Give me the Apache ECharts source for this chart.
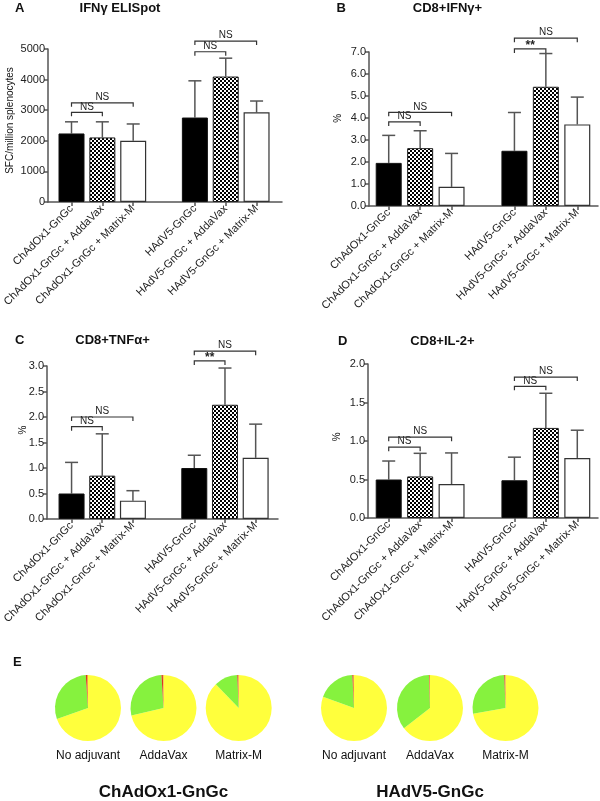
<!DOCTYPE html>
<html><head><meta charset="utf-8">
<script src="https://cdn.jsdelivr.net/npm/echarts@6/dist/echarts.min.js"></script>
<style>html,body{margin:0;padding:0;background:#fff}#c{width:600px;height:801px}</style>
</head><body><div id="c"></div>
<script>
// ---------- data ----------
const categories = ['ChAdOx1-GnGc','ChAdOx1-GnGc + AddaVax','ChAdOx1-GnGc + Matrix-M','','HAdV5-GnGc','HAdV5-GnGc + AddaVax','HAdV5-GnGc + Matrix-M'];
const groupSlots = [0,1,2,4,5,6];

const elispotMean = [2240,2110,2000,2760,4100,2930];
const elispotSD   = [380,510,550,1200,600,370];
const ifngMean = [1.96,2.63,0.87,2.51,5.42,3.71];
const ifngSD   = [1.25,0.79,1.52,1.74,1.51,1.24];
const tnfMean  = [0.50,0.85,0.36,1.00,2.24,1.20];
const tnfSD    = [0.61,0.82,0.195,0.25,0.72,0.66];
const il2Mean  = [0.50,0.54,0.44,0.49,1.17,0.78];
const il2SD    = [0.24,0.30,0.405,0.30,0.45,0.36];

// brackets: [fromSlot, toSlot, yValue]
const elispotBrackets = [[0,1,2930],[0,2,3240],[4,5,4910],[4,6,5260]];
const elispotBracketLabels = ['NS','NS','NS','NS'];
const ifngBrackets = [[0,1,3.82],[0,2,4.26],[4,5,7.14],[4,6,7.63]];
const ifngBracketLabels = ['NS','NS','**','NS'];
const tnfBrackets = [[0,1,1.81],[0,2,2.0],[4,5,3.10],[4,6,3.29]];
const tnfBracketLabels = ['NS','NS','**','NS'];
const il2Brackets = [[0,1,0.92],[0,2,1.05],[4,5,1.71],[4,6,1.83]];
const il2BracketLabels = ['NS','NS','NS','NS'];

const pieLabels = ['No adjuvant','AddaVax','Matrix-M','No adjuvant','AddaVax','Matrix-M'];
const pieYellow = [69.6,71.4,87.8,80.6,64.5,72.2];
const pieGreen  = [29.3,27.6,11.5,18.6,35.0,27.2];
const pieRed    = [0.7,0.7,0.4,0.5,0.3,0.4];
const pieOrange = [0.4,0.3,0.3,0.3,0.2,0.2];
const vectorNames = ['ChAdOx1-GnGc','HAdV5-GnGc'];

// ---------- styling ----------
const FONT = '"Liberation Sans", Arial, Helvetica, sans-serif';
const AX = '#555';
const checker = document.createElement('canvas');
checker.width = 4; checker.height = 4;
(function(){const g=checker.getContext('2d');g.fillStyle='#fff';g.fillRect(0,0,4,4);g.fillStyle='#000';g.fillRect(0,0,2,2);g.fillRect(2,2,2,2);})();
const barStyles = [
  {color:'#000', borderColor:'#111', borderWidth:1},
  {color:{image:checker, repeat:'repeat'}, borderColor:'#222', borderWidth:1},
  {color:'#fff', borderColor:'#333', borderWidth:1.2}
];

const panels = [
  {mean:elispotMean, sd:elispotSD, br:elispotBrackets, brl:elispotBracketLabels, max:5000, interval:1000, dec:0,
   frame:{left:48,top:49,width:234,height:153}, data:{left:53,width:219}},
  {mean:ifngMean, sd:ifngSD, br:ifngBrackets, brl:ifngBracketLabels, max:7, interval:1, dec:1,
   frame:{left:369,top:52,width:229,height:154}, data:{left:373,width:220}},
  {mean:tnfMean, sd:tnfSD, br:tnfBrackets, brl:tnfBracketLabels, max:3, interval:0.5, dec:1,
   frame:{left:47,top:366,width:231,height:153}, data:{left:51,width:220}},
  {mean:il2Mean, sd:il2SD, br:il2Brackets, brl:il2BracketLabels, max:2, interval:0.5, dec:1,
   frame:{left:368,top:364,width:230,height:154}, data:{left:373,width:220}}
];

const grid=[], xAxis=[], yAxis=[], series=[];
panels.forEach((p,i)=>{
  const fi = 2*i, di = 2*i+1;
  grid.push({left:p.frame.left, top:p.frame.top, width:p.frame.width, height:p.frame.height});
  grid.push({left:p.data.left, top:p.frame.top, width:p.data.width, height:p.frame.height});
  xAxis.push({gridIndex:fi, type:'category', data:[''], axisLine:{lineStyle:{color:AX,width:1.5}}, axisTick:{show:false}, axisLabel:{show:false}});
  xAxis.push({gridIndex:di, type:'category', data:categories, axisLine:{show:false},
    axisTick:{show:true, alignWithLabel:true, length:4, interval:(idx,v)=>v!=='', lineStyle:{color:AX,width:1.5}},
    axisLabel:{interval:0, rotate:45, fontSize:11, fontFamily:FONT, color:'#222', margin:5}});
  yAxis.push({gridIndex:fi, type:'value', min:0, max:p.max, interval:p.interval,
    axisLine:{show:true, lineStyle:{color:AX,width:1.5}}, axisTick:{show:true,length:4,lineStyle:{color:AX,width:1.5}},
    splitLine:{show:false},
    axisLabel:{fontSize:11, fontFamily:FONT, color:'#222', margin:3, formatter:v=>v.toFixed(p.dec)}});
  yAxis.push({gridIndex:di, type:'value', min:0, max:p.max, interval:p.interval, show:false, splitLine:{show:false}});

  const barData = categories.map(()=> '-');
  p.mean.forEach((m,k)=>{ barData[groupSlots[k]] = {value:m, itemStyle:barStyles[k%3]}; });
  series.push({type:'bar', xAxisIndex:di, yAxisIndex:di, data:barData, barWidth:26, silent:true, animation:false});

  series.push({type:'custom', xAxisIndex:di, yAxisIndex:di, silent:true, animation:false, clip:false,
    data:p.mean.map((m,k)=>[groupSlots[k], m, m+p.sd[k]]),
    encode:{x:0,y:[1,2]},
    renderItem:(params,api)=>{
      const a=api.coord([api.value(0),api.value(1)]), b=api.coord([api.value(0),api.value(2)]);
      return {type:'group', children:[
        {type:'line', shape:{x1:a[0],y1:a[1],x2:b[0],y2:b[1]}, style:{stroke:AX,lineWidth:1.5}},
        {type:'line', shape:{x1:b[0]-6.5,y1:b[1],x2:b[0]+6.5,y2:b[1]}, style:{stroke:AX,lineWidth:1.5}}
      ]};
    }});

  series.push({type:'custom', xAxisIndex:di, yAxisIndex:di, silent:true, animation:false, clip:false,
    data:p.br, encode:{x:[0,1],y:2},
    renderItem:(params,api)=>{
      const a=api.coord([api.value(0),api.value(2)]), b=api.coord([api.value(1),api.value(2)]);
      const lab = p.brl[params.dataIndex];
      return {type:'group', children:[
        {type:'polyline', shape:{points:[[a[0],a[1]+4],[a[0],a[1]],[b[0],b[1]],[b[0],b[1]+4]]}, style:{stroke:'#333',lineWidth:1.2,fill:null}},
        {type:'text', x:(a[0]+b[0])/2, y:a[1]-(lab==='**'?-3:0.5), style:{text:lab, font:(lab==='**'?'bold 12px ':'10px ')+FONT, fill:'#222', textAlign:'center', textVerticalAlign:'bottom'}}
      ]};
    }});
});

const pieCenters = [88,163.5,238.7,354,430,505.5];
pieCenters.forEach((cx,k)=>{
  series.push({type:'pie', center:[cx,708], radius:33, startAngle:90, clockwise:true, silent:true, animation:false,
    label:{show:false}, labelLine:{show:false}, itemStyle:{borderWidth:0},
    data:[
      {value:pieYellow[k], itemStyle:{color:'#ffff3c'}},
      {value:pieGreen[k], itemStyle:{color:'#86f23e'}},
      {value:pieRed[k], itemStyle:{color:'#d83a1c'}},
      {value:pieOrange[k], itemStyle:{color:'#f5901e'}}
    ]});
});

function txt(t,x,y,font,opts){return Object.assign({type:'text', x:x, y:y, silent:true,
  style:{text:t, font:font, fill:'#111', textAlign:(opts&&opts.align)||'center', textVerticalAlign:'middle'}}, (opts&&opts.rot)?{rotation:Math.PI/2}:{});}
const B13 = 'bold 13px '+FONT;
const graphic = [
  txt('A',15,8,B13,{align:'left'}), txt('IFNγ ELISpot',120,8,B13),
  txt('B',336.5,8.5,B13,{align:'left'}), txt('CD8+IFNγ+',447.5,8.5,B13),
  txt('C',15,340,B13,{align:'left'}), txt('CD8+TNFα+',112.5,340,B13),
  txt('D',338,341.5,B13,{align:'left'}), txt('CD8+IL-2+',442.5,341.5,B13),
  txt('E',13,662,B13,{align:'left'}),
  txt('SFC/million splenocytes',10,120.5,'10px '+FONT,{rot:true}),
  txt('%',338.3,118.3,'10px '+FONT,{rot:true}),
  txt('%',23.3,430,'10px '+FONT,{rot:true}),
  txt('%',337,436.7,'10px '+FONT,{rot:true})
];
pieCenters.forEach((cx,k)=>graphic.push(txt(pieLabels[k],cx,756,'12px '+FONT)));
graphic.push(txt(vectorNames[0],163.5,792,'bold 17px '+FONT));
graphic.push(txt(vectorNames[1],430,792,'bold 17px '+FONT));

const chart = echarts.init(document.getElementById('c'), null, {renderer:'canvas'});
chart.setOption({animation:false, backgroundColor:'#fff', grid, xAxis, yAxis, series, graphic});
</script></body></html>
